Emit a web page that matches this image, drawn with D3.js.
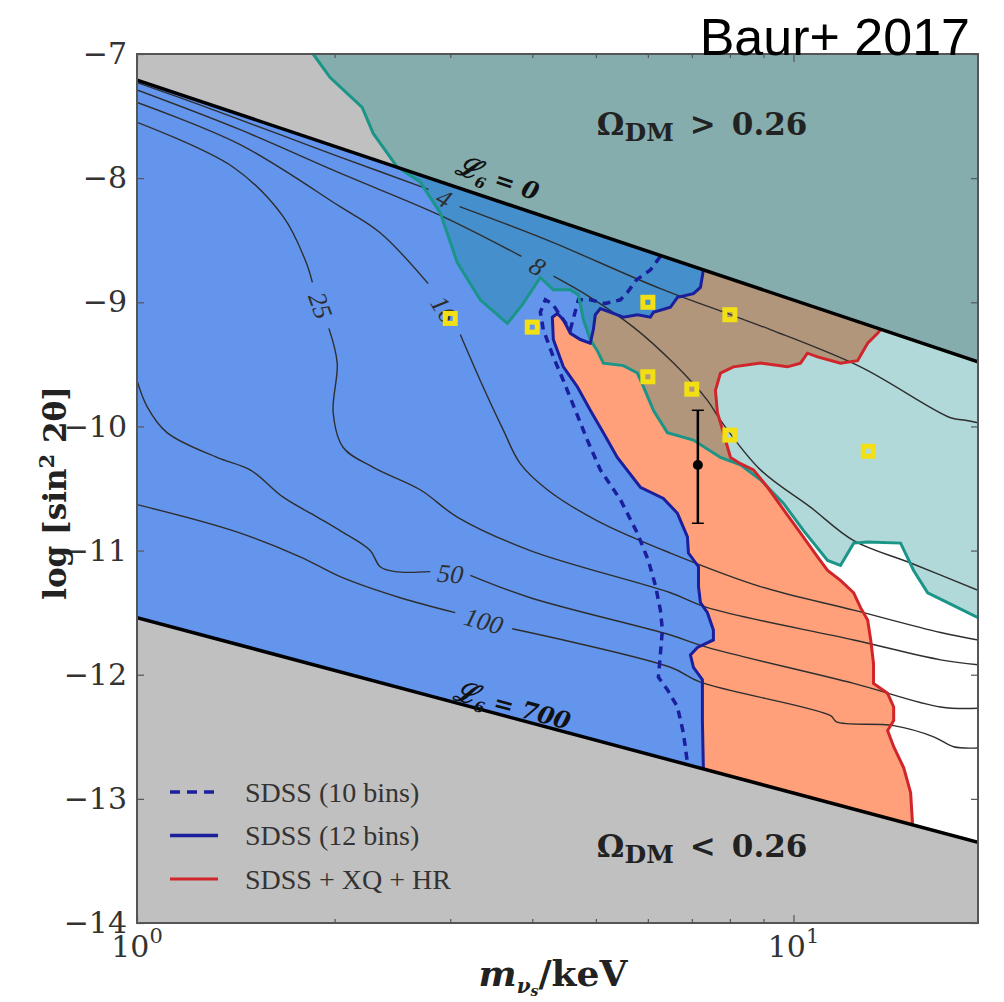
<!DOCTYPE html>
<html>
<head>
<meta charset="utf-8">
<title>Baur+ 2017</title>
<script src="https://cdn.jsdelivr.net/npm/d3@7"></script>
<style>
  body { margin: 0; background: #ffffff; }
</style>
</head>
<body>
<div id="chart"></div>
<script>

//////// DATA ////////
// every point is [m_nu_s in keV, log10(sin^2 2theta)]

var xDomain = [1, 19.1];
var yDomain = [-14, -7];
var yTicks = [-7, -8, -9, -10, -11, -12, -13, -14];
var xMajorTicks = [1, 10];
var xMinorTicks = [2, 3, 4, 5, 6, 7, 8, 9];

// L6 = 0 (upper) and L6 = 700 (lower) lines
var lineL6zero = [[1, -7.21], [19.1, -9.48]];
var lineL6max = [[1, -11.54], [19.1, -13.35]];

// edge of the Omega_DM > 0.26 region
var omegaEdge = [[1.855, -7.00], [1.969, -7.19], [2.203, -7.43], [2.29, -7.64], [2.49, -7.91],
  [2.70, -8.03], [2.897, -8.28], [3.075, -8.68], [3.333, -8.98], [3.665, -9.17], [3.862, -9.02],
  [4.115, -8.80], [4.307, -8.90], [4.572, -8.90], [4.702, -8.94], [4.786, -9.14], [4.903, -9.30],
  [5.025, -9.39], [5.133, -9.49], [5.507, -9.51], [5.784, -9.57], [5.907, -9.68], [6.118, -9.87],
  [6.425, -10.05], [7.04, -10.11], [7.74, -10.25], [8.303, -10.31], [8.907, -10.43], [9.656, -10.62],
  [10.36, -10.84], [11.27, -11.08], [11.79, -11.12], [12.35, -10.94], [12.97, -10.93], [14.56, -10.94],
  [15.24, -11.16], [16.01, -11.34], [17.17, -11.42], [19.1, -11.54]];

// SDSS (12 bins)
var sdss12 = [[7.29, -8.74], [7.215, -8.88], [7.04, -8.93], [6.656, -8.96], [6.494, -9.04], [6.118, -9.08],
  [6.053, -9.12], [5.784, -9.10], [5.507, -9.12], [5.315, -9.09], [5.079, -9.05], [4.99, -9.10],
  [4.956, -9.22], [4.903, -9.33], [4.735, -9.30], [4.572, -9.25], [4.461, -9.14], [4.368, -9.09],
  [4.292, -9.12], [4.307, -9.30], [4.461, -9.52], [4.685, -9.68], [4.903, -9.87], [5.133, -10.05],
  [5.39, -10.25], [5.845, -10.49], [6.336, -10.58], [6.656, -10.70], [6.893, -10.89], [6.918, -11.02],
  [7.166, -11.13], [7.166, -11.29], [7.215, -11.42], [7.394, -11.50], [7.551, -11.64], [7.551, -11.72],
  [7.14, -11.78], [6.966, -11.84], [7.04, -11.94], [7.265, -12.04], [7.265, -12.37], [7.29, -12.76]];

// SDSS (10 bins)
var sdss10 = [[6.27, -8.63], [6.053, -8.74], [5.764, -8.82], [5.585, -8.92], [5.449, -8.98], [5.17, -9.01],
  [4.903, -8.98], [4.702, -8.98], [4.637, -9.10], [4.572, -9.22], [4.415, -9.11], [4.292, -9.01],
  [4.188, -8.98], [4.115, -9.08], [4.158, -9.22], [4.307, -9.44], [4.461, -9.63], [4.653, -9.87],
  [4.853, -10.11], [5.079, -10.35], [5.449, -10.59], [5.784, -10.86], [6.01, -11.08], [6.16, -11.28],
  [6.27, -11.48], [6.314, -11.64], [6.27, -11.83], [6.226, -12.02], [6.425, -12.12], [6.656, -12.26],
  [6.797, -12.47], [6.893, -12.71]];

// SDSS + XQ + HR
var sdssXqHr = [[13.57, -9.22], [13.43, -9.25], [12.97, -9.33], [12.52, -9.47], [11.79, -9.49], [10.88, -9.44],
  [10.50, -9.41], [10.25, -9.49], [9.79, -9.52], [8.907, -9.49], [8.10, -9.52], [7.74, -9.57],
  [7.605, -9.71], [7.658, -9.89], [7.82, -10.05], [8.017, -10.25], [8.303, -10.30], [8.69, -10.35],
  [9.13, -10.49], [9.656, -10.67], [10.25, -10.86], [10.88, -11.05], [11.27, -11.16], [11.79, -11.24],
  [12.35, -11.34], [12.65, -11.46], [12.97, -11.56], [13.11, -11.72], [13.24, -11.91], [13.24, -12.07],
  [13.91, -12.15], [14.21, -12.26], [14.21, -12.37], [13.91, -12.45], [14.21, -12.58], [14.72, -12.75],
  [15.08, -12.95], [15.18, -13.20]];

// lepton asymmetry L6 contours (null = gap for the label)
var contour4 = [[1, -7.23], [1.247, -7.41], [1.652, -7.65], [2.039, -7.83], [2.78, -8.09], null,
  [3.10, -8.23], [4.217, -8.50], [6.27, -8.89], [8.02, -9.10], [9.22, -9.22], [12.65, -9.52],
  [17.35, -9.93], [18.29, -9.95], [19.1, -9.97]];
var contour8 = [[1, -7.29], [1.436, -7.61], [2.039, -7.96], [2.897, -8.30], [3.85, -8.63], null,
  [4.31, -8.79], [4.903, -8.96], [5.704, -9.20], [6.564, -9.49], [7.394, -9.79], [7.74, -9.95],
  [8.907, -10.35], [10.61, -10.65], [12.35, -10.92], [15.08, -11.10], [19.1, -11.32]];
var contour16 = [[1, -7.39], [1.436, -7.73], [2.039, -8.23], [2.346, -8.44], [2.777, -8.85], null,
  [3.108, -9.26], [3.333, -9.63], [3.614, -10.03], [3.835, -10.30], [4.217, -10.51], [5.025, -10.76],
  [6.494, -11.02], [8.907, -11.29], [12.35, -11.48], [16.75, -11.66], [19.1, -11.72]];
var contour25 = [[1, -7.55], [1.40, -7.91], [1.67, -8.31], [1.804, -8.66], [1.85, -8.84], null,
  [1.96, -9.21], [2.018, -9.49], [1.99, -9.89], [2.061, -10.17], [2.29, -10.33], [2.70, -10.51],
  [3.075, -10.73], [3.972, -11.00], [6.494, -11.34], [7.394, -11.46], [12.35, -11.72], [16.75, -11.88],
  [19.1, -11.92]];
var contour50 = [[1, -9.63], [1.036, -9.84], [1.111, -10.05], [1.324, -10.25], [1.487, -10.35],
  [1.67, -10.57], [1.881, -10.73], [2.039, -10.84], [2.266, -11.00], [2.346, -11.13], [2.474, -11.17],
  [2.797, -11.17], null, [3.219, -11.20], [3.972, -11.38], [6.494, -11.68], [7.394, -11.78],
  [12.35, -12.07], [16.75, -12.26], [19.1, -12.27]];
var contour100 = [[1, -10.63], [1.40, -10.84], [1.772, -11.05], [2.039, -11.21], [2.517, -11.38],
  [3.053, -11.50], null, [3.729, -11.63], [6.494, -11.94], [7.215, -12.06], [11.39, -12.33],
  [11.63, -12.38], [14.21, -12.41], [16.35, -12.50], [17.53, -12.58], [19.1, -12.59]];
var contourLevels = [4, 8, 16, 25, 50, 100];

// candidate points (yellow squares)
var candidateMass = [3, 4, 6, 8, 6, 7, 8, 13];
var candidateMix = [-9.13, -9.2, -9.0, -9.1, -9.6, -9.7, -10.07, -10.2];

// 3.5 keV line
var lineMass = [7.15];
var lineMix = [-10.31];
var lineMixLow = [-10.78];
var lineMixHigh = [-9.87];

var legendNames = ["SDSS (10 bins)", "SDSS (12 bins)", "SDSS + XQ + HR"];


function plotChart() {

	//////// CANVAS AND SCALES ////////
	var width = 1004, height = 1002;
	var pLeft = 137, pRight = 978, pTop = 54, pBottom = 923;

	var x = d3.scaleLog().domain(xDomain).range([pLeft, pRight]);
	var y = d3.scaleLinear().domain(yDomain).range([pBottom, pTop]);

	var serif = "'DejaVu Serif', serif";
	var romanFont = "'Liberation Serif', 'Times New Roman', serif";
	var darkBlue = "#1b1f9c";

	var svg = d3.select("#chart").append("svg")
		.attr("width", width)
		.attr("height", height);

	svg.append("clipPath").attr("id", "plotclip")
		.append("rect")
		.attr("x", pLeft).attr("y", pTop)
		.attr("width", pRight - pLeft).attr("height", pBottom - pTop);

	var plot = svg.append("g").attr("clip-path", "url(#plotclip)");

	var line = d3.line()
		.defined(function(d) { return d != null; })
		.x(function(d) { return x(d[0]); })
		.y(function(d) { return y(d[1]); });

	var smooth = d3.line()
		.defined(function(d) { return d != null; })
		.curve(d3.curveCatmullRom.alpha(0.5))
		.x(function(d) { return x(d[0]); })
		.y(function(d) { return y(d[1]); });

	//////// REGIONS ////////
	plot.append("rect")
		.attr("x", pLeft).attr("y", pTop)
		.attr("width", pRight - pLeft).attr("height", pBottom - pTop)
		.attr("fill", "#c0c0c0");

	var band = [lineL6zero[0], lineL6zero[1], lineL6max[1], lineL6max[0]];
	plot.append("path").attr("d", line(band) + "Z").attr("fill", "#ffffff");

	plot.append("path")
		.attr("d", line([lineL6zero[0]].concat(sdssXqHr, [lineL6max[0]])) + "Z")
		.attr("fill", "#ffa07a");

	plot.append("path")
		.attr("d", line([lineL6zero[0]].concat(sdss12, [lineL6max[0]])) + "Z")
		.attr("fill", "#6495ed");

	// Omega_DM > 0.26 overlay
	plot.append("path")
		.attr("d", line(omegaEdge.concat([[xDomain[1], yDomain[1]]])) + "Z")
		.attr("fill", "#008080")
		.attr("fill-opacity", 0.3);

	//////// CONTOURS ////////
	var contours = [contour4, contour8, contour16, contour25, contour50, contour100];
	contours.forEach(function(c, i) {
		plot.append("path")
			.attr("d", smooth(c))
			.attr("fill", "none")
			.attr("stroke", "#2e2e2e")
			.attr("stroke-width", 1.4);

		// label sits in the gap
		var k = c.indexOf(null);
		var a = c[k - 1], b = c[k + 1];
		var xa = x(a[0]), ya = y(a[1]), xb = x(b[0]), yb = y(b[1]);
		var ang = Math.atan2(yb - ya, xb - xa) * 180 / Math.PI;
		plot.append("text")
			.attr("transform", "translate(" + (xa + xb) / 2 + "," + (ya + yb) / 2 + ") rotate(" + ang + ")")
			.attr("text-anchor", "middle")
			.attr("dy", "0.35em")
			.attr("font-family", romanFont)
			.attr("font-style", "italic")
			.attr("font-size", 26)
			.attr("fill", "#2e2e2e")
			.text(contourLevels[i]);
	});

	//////// BOUNDARIES ////////
	plot.append("path").attr("d", line(sdss10))
		.attr("fill", "none").attr("stroke", darkBlue)
		.attr("stroke-width", 3.5).attr("stroke-dasharray", "8,6");

	plot.append("path").attr("d", line(omegaEdge))
		.attr("fill", "none").attr("stroke", "#1a9588").attr("stroke-width", 3);

	plot.append("path").attr("d", line(sdss12))
		.attr("fill", "none").attr("stroke", darkBlue).attr("stroke-width", 3);

	plot.append("path").attr("d", line(sdssXqHr))
		.attr("fill", "none").attr("stroke", "#d0262b").attr("stroke-width", 3);

	[lineL6zero, lineL6max].forEach(function(l) {
		plot.append("path").attr("d", line(l))
			.attr("fill", "none").attr("stroke", "#000").attr("stroke-width", 3.5);
	});

	// L6 labels along the lines
	function l6Label(l, m, s, val) {
		var ang = Math.atan2(y(l[1][1]) - y(l[0][1]), x(l[1][0]) - x(l[0][0])) * 180 / Math.PI;
		var t = svg.append("text")
			.attr("transform", "translate(" + x(m) + "," + y(s) + ") rotate(" + ang + ")")
			.attr("text-anchor", "middle")
			.attr("y", 9)
			.attr("font-family", serif)
			.attr("font-weight", "bold")
			.attr("font-style", "italic")
			.attr("font-size", 24)
			.attr("fill", "#111");
		t.append("tspan").attr("font-size", 28).text("\u2112");
		t.append("tspan").attr("font-size", 15).attr("dy", 6).text("6");
		t.append("tspan").attr("dy", -6).attr("dx", 8).text("= " + val);
	}
	l6Label(lineL6zero, 3.54, -8.0, "0");
	l6Label(lineL6max, 3.73, -12.25, "700");

	//////// POINTS ////////
	plot.selectAll(".cand")
		.data(candidateMass).enter().append("rect")
		.attr("class", "cand")
		.attr("x", function(d) { return x(d) - 5; })
		.attr("y", function(d, i) { return y(candidateMix[i]) - 5; })
		.attr("width", 10).attr("height", 10)
		.attr("fill", "none")
		.attr("stroke", "#f2e014")
		.attr("stroke-width", 5);

	lineMass.forEach(function(m, i) {
		var cx = x(m);
		plot.append("line")
			.attr("x1", cx).attr("x2", cx)
			.attr("y1", y(lineMixHigh[i])).attr("y2", y(lineMixLow[i]))
			.attr("stroke", "#000").attr("stroke-width", 2.5);
		[lineMixHigh[i], lineMixLow[i]].forEach(function(v) {
			plot.append("line")
				.attr("x1", cx - 6).attr("x2", cx + 6)
				.attr("y1", y(v)).attr("y2", y(v))
				.attr("stroke", "#000").attr("stroke-width", 1.5);
		});
		plot.append("circle").attr("cx", cx).attr("cy", y(lineMix[i])).attr("r", 5).attr("fill", "#000");
	});

	//////// ANNOTATIONS ////////
	function omegaLabel(s, sign) {
		var t = svg.append("text")
			.attr("x", x(5.0) + 1).attr("y", y(s))
			.attr("font-family", serif)
			.attr("font-weight", "bold")
			.attr("font-size", 31)
			.attr("fill", "#222");
		t.append("tspan").text("\u03A9");
		t.append("tspan").attr("font-size", 25).attr("dy", 6).text("DM");
		t.append("tspan").attr("dy", -6).attr("dx", 16).text(sign);
		t.append("tspan").attr("dx", 16).text("0.26");
	}
	omegaLabel(-7.65, ">");
	omegaLabel(-13.47, "<");

	//////// LEGEND ////////
	var legendStyles = [
		{ color: darkBlue, dash: "10,7" },
		{ color: darkBlue, dash: null },
		{ color: "#d0262b", dash: null }
	];
	var legend = svg.append("g").attr("transform", "translate(170,792)");
	legendNames.forEach(function(name, i) {
		var row = legend.append("g").attr("transform", "translate(0," + (i * 43.5) + ")");
		row.append("line")
			.attr("x1", 0).attr("x2", 48)
			.attr("stroke", legendStyles[i].color)
			.attr("stroke-width", i == 2 ? 3 : 3.5)
			.attr("stroke-dasharray", legendStyles[i].dash);
		row.append("text")
			.attr("x", 75).attr("dy", "0.35em")
			.attr("font-family", romanFont)
			.attr("font-size", 28)
			.attr("fill", "#333")
			.text(name);
	});

	//////// AXES ////////
	var gy = svg.append("g")
		.attr("transform", "translate(" + pLeft + ",0)")
		.call(d3.axisLeft(y).tickValues(yTicks).tickSize(-7).tickPadding(10)
			.tickFormat(function(d) { return "\u2212" + Math.abs(d); }));
	gy.selectAll("text").attr("font-family", serif).attr("font-size", 30).attr("fill", "#333");

	svg.append("g")
		.attr("transform", "translate(" + pRight + ",0)")
		.call(d3.axisRight(y).tickValues(yTicks).tickSize(-7).tickFormat(""));

	[[pBottom, d3.axisBottom], [pTop, d3.axisTop]].forEach(function(p) {
		svg.append("g").attr("transform", "translate(0," + p[0] + ")")
			.call(p[1](x).tickValues(xMinorTicks).tickSize(-4).tickFormat(""));
		svg.append("g").attr("transform", "translate(0," + p[0] + ")")
			.call(p[1](x).tickValues(xMajorTicks).tickSize(-8).tickFormat(""));
	});

	svg.selectAll(".domain").remove();
	svg.selectAll(".tick line").attr("stroke", "#555").attr("stroke-width", 1.2);

	xMajorTicks.forEach(function(d) {
		var t = svg.append("text")
			.attr("x", x(d)).attr("y", 957)
			.attr("text-anchor", "middle")
			.attr("font-family", serif)
			.attr("font-size", 30)
			.attr("fill", "#333");
		t.append("tspan").text("10");
		t.append("tspan").attr("font-size", 21).attr("dy", -14).text(Math.round(Math.log10(d)));
	});

	svg.append("rect")
		.attr("x", pLeft).attr("y", pTop)
		.attr("width", pRight - pLeft).attr("height", pBottom - pTop)
		.attr("fill", "none")
		.attr("stroke", "#555")
		.attr("stroke-width", 2);

	// axis titles
	var ylab = svg.append("text")
		.attr("transform", "translate(66,493) rotate(-90)")
		.attr("text-anchor", "middle")
		.attr("font-family", serif)
		.attr("font-weight", "bold")
		.attr("font-size", 31)
		.attr("fill", "#222");
	ylab.append("tspan").text("log [sin");
	ylab.append("tspan").attr("font-size", 21).attr("dy", -12).text("2");
	ylab.append("tspan").attr("dy", 12).text(" 2\u03B8]");

	var xlab = svg.append("text")
		.attr("x", 553).attr("y", 986)
		.attr("text-anchor", "middle")
		.attr("font-family", serif)
		.attr("font-weight", "bold")
		.attr("font-size", 36)
		.attr("fill", "#222");
	xlab.append("tspan").attr("font-style", "italic").text("m");
	xlab.append("tspan").attr("font-style", "italic").attr("font-size", 20).attr("dy", 7).text("\u03BD");
	xlab.append("tspan").attr("font-style", "italic").attr("font-size", 14).attr("dy", 3).text("s");
	xlab.append("tspan").attr("dy", -10).text("/keV");

	// citation
	svg.append("text")
		.attr("x", 970).attr("y", 55)
		.attr("text-anchor", "end")
		.attr("font-family", "'Helvetica Neue', Helvetica, 'Liberation Sans', Arial, sans-serif")
		.attr("font-weight", 300)
		.attr("font-size", 52)
		.attr("fill", "#000")
		.text("Baur+ 2017");
}
plotChart();

</script>
</body>
</html>
